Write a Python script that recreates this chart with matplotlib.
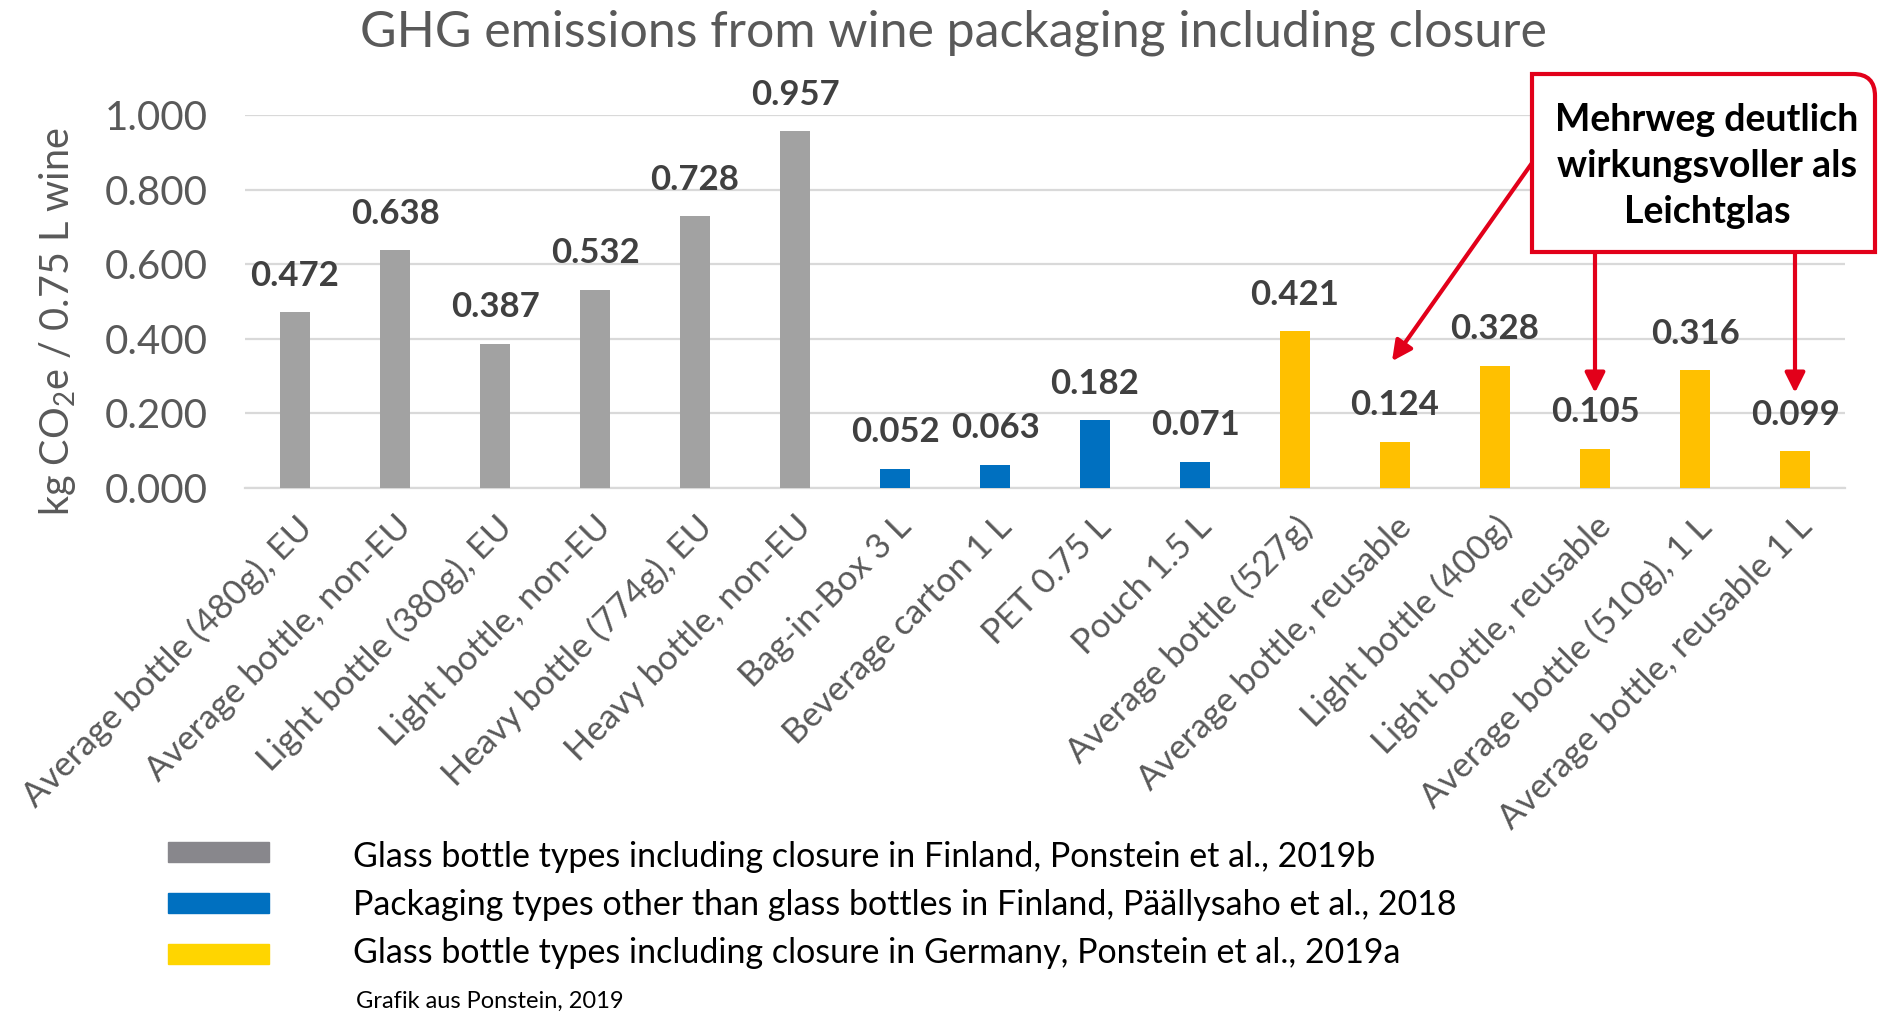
import matplotlib.pyplot as plt
from matplotlib.patches import Rectangle, PathPatch
from matplotlib.path import Path

plt.rcParams['font.family'] = ['Lato', 'DejaVu Sans']
plt.rcParams['mathtext.fontset'] = 'custom'
plt.rcParams['mathtext.rm'] = 'Lato'
plt.rcParams['mathtext.it'] = 'Lato'

categories = [
    "Average bottle (480g), EU", "Average bottle, non-EU", "Light bottle (380g), EU",
    "Light bottle, non-EU", "Heavy bottle (774g), EU", "Heavy bottle, non-EU",
    "Bag-in-Box 3 L", "Beverage carton 1 L", "PET 0.75 L", "Pouch 1.5 L",
    "Average bottle (527g)", "Average bottle, reusable", "Light bottle (400g)",
    "Light bottle, reusable", "Average bottle (510g), 1 L", "Average bottle, reusable 1 L",
]
values = [0.472, 0.638, 0.387, 0.532, 0.728, 0.957,
          0.052, 0.063, 0.182, 0.071,
          0.421, 0.124, 0.328, 0.105, 0.316, 0.099]
group_sizes = [6, 4, 6]
group_colors = ["#a2a2a2", "#0070c0", "#ffc000"]
legend_colors = ["#88878c", "#0070c0", "#ffd500"]
legend_labels = [
    "Glass bottle types including closure in Finland, Ponstein et al., 2019b",
    "Packaging types other than glass bottles in Finland, Päällysaho et al., 2018",
    "Glass bottle types including closure in Germany, Ponstein et al., 2019a",
]
yticks = [0.0, 0.2, 0.4, 0.6, 0.8, 1.0]
# indices of the reusable bottles the callout points at
callout_targets = [11, 13, 15]

W, H = 1878, 1015
fig = plt.figure(figsize=(W / 100, H / 100), dpi=100)
ax = fig.add_axes([245 / W, 1 - 488 / H, 1600 / W, 373 / H])

bar_colors = []
for size, color in zip(group_sizes, group_colors):
    bar_colors += [color] * size

x = list(range(len(categories)))
bars = ax.bar(x, values, width=0.3, color=bar_colors, zorder=3)

for xi, v in zip(x, values):
    ax.annotate(f"{v:.3f}", (xi, v), xytext=(0, 19), textcoords="offset points",
                ha="center", va="baseline", fontsize=25, fontweight="bold",
                color="#404040", zorder=5, annotation_clip=False)

ax.set_xlim(-0.5, len(categories) - 0.5)
ax.set_ylim(0, 1.0)
ax.set_yticks(yticks)
ax.set_yticklabels([f"{t:.3f}" for t in yticks], fontsize=29, color="#595959")
ax.set_xticks(x)
ax.set_xticklabels(categories, rotation=45, ha="right", rotation_mode="anchor",
                   fontsize=25, color="#595959")
ax.tick_params(axis="both", length=0)
ax.tick_params(axis="x", pad=16)
ax.tick_params(axis="y", pad=27)
ax.grid(axis="y", color="#d9d9d9", lw=1.6, zorder=0)
for side in ["top", "right", "left"]:
    ax.spines[side].set_visible(False)
ax.spines["bottom"].set_color("#d9d9d9")
ax.spines["bottom"].set_linewidth(1.6)

fig.text(953 / W, 1 - 33 / H, "GHG emissions from wine packaging including closure",
         ha="center", va="center", fontsize=36, color="#595959")
fig.text(58 / W, 1 - 322 / H, r"kg CO$_2$e / 0.75 L wine", rotation=90,
         ha="center", va="center", fontsize=28.5, color="#595959")

# legend drawn as free patches and texts
for i, (c, lab) in enumerate(zip(legend_colors, legend_labels)):
    yc = 852 + 51 * i
    fig.patches.append(Rectangle((168 / W, 1 - (yc + 10) / H), 101 / W, 20 / H,
                                 transform=fig.transFigure, color=c))
    fig.text(353 / W, 1 - (857 + 48 * i) / H, lab, ha="left", va="center",
             fontsize=24.5, color="black")
fig.text(356 / W, 1 - 1001 / H, "Grafik aus Ponstein, 2019", ha="left", va="center",
         fontsize=17, color="black")

# callout box with rounded top-right corner
red = "#e2001a"
x0, x1 = 1532 / W, 1875 / W
y0, y1 = 1 - 252 / H, 1 - 74 / H
rx, ry = 22 / W, 22 / H
verts = [(x0, y0), (x0, y1), (x1 - rx, y1), (x1, y1), (x1, y1 - ry), (x1, y0), (x0, y0)]
codes = [Path.MOVETO, Path.LINETO, Path.LINETO, Path.CURVE3, Path.CURVE3, Path.LINETO, Path.CLOSEPOLY]
fig.patches.append(PathPatch(Path(verts, codes), transform=fig.transFigure,
                             facecolor="white", edgecolor=red, lw=3, zorder=10))
fig.text(1707 / W, 1 - 166 / H, "Mehrweg deutlich\nwirkungsvoller als\nLeichtglas",
         ha="center", va="center", fontsize=27, fontweight="bold", color="black",
         linespacing=1.43, zorder=11)

arrow = dict(arrowstyle="-|>,head_length=0.6,head_width=0.3", color=red, lw=3,
             mutation_scale=20, shrinkA=0, shrinkB=0)
ax.annotate("", xy=(callout_targets[0] - 0.03, 0.34), xycoords="data",
            xytext=(x0, 1 - 163 / H), textcoords="figure fraction",
            arrowprops=arrow, annotation_clip=False)
for t in callout_targets[1:]:
    ax.annotate("", xy=(t, 0.255), xycoords="data",
                xytext=(t, y0), textcoords=("data", "figure fraction"),
                arrowprops=arrow, annotation_clip=False)

fig.savefig("out.png", dpi=100, facecolor="white")
